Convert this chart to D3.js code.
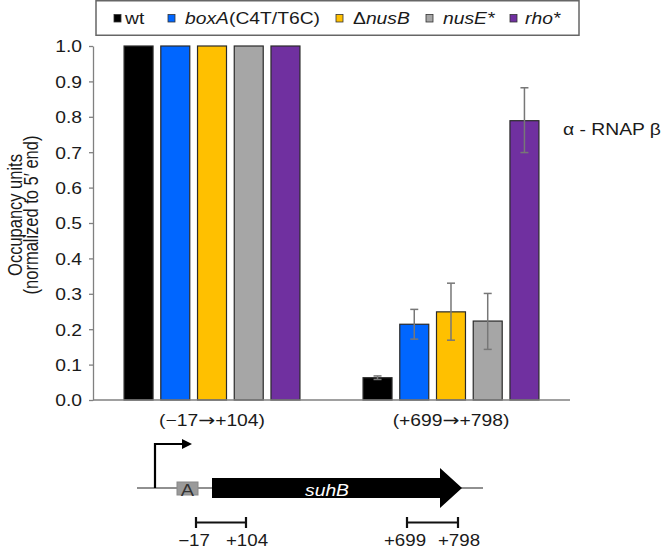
<!DOCTYPE html>
<html>
<head>
<meta charset="utf-8">
<script src="https://cdn.jsdelivr.net/npm/d3@7"></script>
<style>
  html, body { margin: 0; padding: 0; background: #fff; }
  svg { display: block; font-family: "Liberation Sans", Arial, Helvetica, sans-serif; }
</style>
</head>
<body>
<svg id="chart" width="661" height="552"></svg>
<script>
// ---------------- data ----------------
const groups = ["(\u221217\u2192+104)", "(+699\u2192+798)"];
const strains = ["wt", "boxA(C4T/T6C)", "\u0394nusB", "nusE*", "rho*"];
const colors = ["#000000", "#0066ff", "#ffc000", "#a6a6a6", "#7030a0"];
const valuesPromoter = [1.0, 1.0, 1.0, 1.0, 1.0];
const valuesDistal = [0.063, 0.214, 0.249, 0.223, 0.789];
const errLowDistal = [0.058, 0.172, 0.169, 0.143, 0.699];
const errHighDistal = [0.068, 0.256, 0.330, 0.301, 0.882];
const yTicks = [0, 0.1, 0.2, 0.3, 0.4, 0.5, 0.6, 0.7, 0.8, 0.9, 1.0];
const yTitle = ["Occupancy units", "(normalized to 5\u2032 end)"];
const annotation = "\u03b1 - RNAP \u03b2";
const rangeLabels = [["\u221217", "+104"], ["+699", "+798"]];

// ---------------- setup ----------------
const SX = 1.17;  // horizontal stretch of text in the reference
const FS = 16.5;
const svg = d3.select("#chart");

function txt(parent, x, y, s, anchor, size, extra) {
  const t = parent.append("text")
    .attr("transform", `translate(${x},${y}) scale(${SX},1)`)
    .attr("text-anchor", anchor || "start")
    .attr("font-size", size || FS)
    .attr("fill", "#1a1a1a")
    .text(s);
  if (extra) extra(t);
  return t;
}

const x0 = d3.scaleBand().domain(groups).range([93, 570])
  .paddingInner(0.264).paddingOuter(0.13);
const x1 = d3.scaleBand().domain(strains).range([0, x0.bandwidth()])
  .paddingInner(0.211).paddingOuter(0);
const y = d3.scaleLinear().domain([0, 1]).range([400, 46]);

const data = [];
groups.forEach((g, gi) => {
  strains.forEach((s, si) => {
    data.push({
      g, s, si,
      v: gi === 0 ? valuesPromoter[si] : valuesDistal[si],
      lo: gi === 0 ? null : errLowDistal[si],
      hi: gi === 0 ? null : errHighDistal[si]
    });
  });
});

// ---------------- bars ----------------
svg.append("g").selectAll("rect").data(data).join("rect")
  .attr("x", d => x0(d.g) + x1(d.s))
  .attr("y", d => y(d.v))
  .attr("width", x1.bandwidth())
  .attr("height", d => y(0) - y(d.v))
  .attr("fill", d => colors[d.si])
  .attr("stroke", "#2a2a2a")
  .attr("stroke-width", 1.2);

// ---------------- error bars ----------------
const eb = svg.append("g").attr("stroke", "#777").attr("stroke-width", 1.5);
const errs = data.filter(d => d.lo !== null);
const cx = d => x0(d.g) + x1(d.s) + x1.bandwidth() / 2;
eb.selectAll("line.v").data(errs).join("line").attr("class", "v")
  .attr("x1", cx).attr("x2", cx)
  .attr("y1", d => y(d.lo)).attr("y2", d => y(d.hi));
eb.selectAll("line.t").data(errs).join("line").attr("class", "t")
  .attr("x1", d => cx(d) - 4).attr("x2", d => cx(d) + 4)
  .attr("y1", d => y(d.hi)).attr("y2", d => y(d.hi));
eb.selectAll("line.b").data(errs).join("line").attr("class", "b")
  .attr("x1", d => cx(d) - 4).attr("x2", d => cx(d) + 4)
  .attr("y1", d => y(d.lo)).attr("y2", d => y(d.lo));

// ---------------- axes ----------------
const yAxis = svg.append("g").attr("transform", "translate(93,0)")
  .call(d3.axisLeft(y).tickValues(yTicks).tickSize(4).tickSizeOuter(0).tickFormat(d3.format(".1f")));
yAxis.select(".domain").attr("stroke", "#808080").attr("stroke-width", 1.3);
yAxis.selectAll(".tick line").attr("stroke", "#808080").attr("stroke-width", 1.3);
yAxis.selectAll(".tick text").remove();
yAxis.selectAll(".tick").each(function (d) {
  txt(d3.select(this), -11, 0, d3.format(".1f")(d), "end", FS, t => t.attr("dy", "0.36em"));
});

svg.append("line").attr("x1", 93).attr("x2", 570).attr("y1", y(0)).attr("y2", y(0))
  .attr("stroke", "#808080").attr("stroke-width", 1.3);

// group labels (arrow drawn from a font that has a full-size arrow)
groups.forEach(g => {
  const parts = g.split("\u2192");
  txt(svg, x0(g) + x0.bandwidth() / 2, 426, "", "middle", FS, t => {
    t.append("tspan").text(parts[0]);
    t.append("tspan").attr("font-family", "'DejaVu Sans', sans-serif").attr("font-size", FS * 1.05).text("\u2192");
    t.append("tspan").text(parts[1]);
  });
});

// y title
yTitle.forEach((s, i) => {
  svg.append("text")
    .attr("transform", `translate(${i === 0 ? 22 : 38},215) scale(${SX},1) rotate(-90)`)
    .attr("text-anchor", "middle")
    .attr("font-size", FS)
    .attr("fill", "#1a1a1a")
    .text(s);
});

// annotation
txt(svg, 563, 135, annotation, "start");

// ---------------- legend ----------------
svg.append("rect").attr("x", 96).attr("y", 0.75).attr("width", 483).attr("height", 34.5)
  .attr("fill", "#fff").attr("stroke", "#666").attr("stroke-width", 1.5);
const legSqX = [114, 168, 336, 426, 510];
const legTxX = [125, 185, 353, 443, 525];
strains.forEach((s, i) => {
  svg.append("rect").attr("x", legSqX[i]).attr("y", 14.5).attr("width", 7).attr("height", 7.5)
    .attr("fill", colors[i]).attr("stroke", "#333").attr("stroke-width", 0.8);
  const t = txt(svg, legTxX[i], 24, "", "start");
  if (i === 0) t.text(s);
  else if (i === 1) {
    t.append("tspan").attr("font-style", "italic").text("boxA");
    t.append("tspan").text("(C4T/T6C)");
  } else if (i === 2) {
    t.append("tspan").text("\u0394");
    t.append("tspan").attr("font-style", "italic").text("nusB");
  } else {
    t.append("tspan").attr("font-style", "italic").text(s);
  }
});

// ---------------- gene schematic ----------------
const gsc = svg.append("g");
gsc.append("line").attr("x1", 137).attr("x2", 483).attr("y1", 488).attr("y2", 488)
  .attr("stroke", "#222").attr("stroke-width", 1.2);
// promoter arrow
gsc.append("path").attr("d", "M155,488 V444 H183")
  .attr("fill", "none").attr("stroke", "#000").attr("stroke-width", 2.2);
gsc.append("path").attr("d", "M182,439 L192,444 L182,449 Z").attr("fill", "#000");
// boxA
gsc.append("rect").attr("x", 177).attr("y", 482).attr("width", 21).attr("height", 13)
  .attr("fill", "#9a9a9a").attr("stroke", "#888").attr("stroke-width", 1);
txt(gsc, 187.5, 495.5, "A", "middle", 17, t => t.attr("fill", "#333"));
// suhB arrow
gsc.append("path").attr("d", "M212,478 H440 V468 L462,488 L440,508 V498 H212 Z").attr("fill", "#000");
txt(gsc, 327, 496, "suhB", "middle", FS, t => t.attr("fill", "#fff").attr("font-style", "italic"));
// ranges
const rangesPx = [[196, 246], [407, 458]];
rangesPx.forEach((r, i) => {
  gsc.append("path").attr("d", `M${r[0]},517 V528 M${r[0]},522.5 H${r[1]} M${r[1]},517 V528`)
    .attr("fill", "none").attr("stroke", "#111").attr("stroke-width", 2.2);
  txt(gsc, r[0] - 2, 546, rangeLabels[i][0], "middle", 16);
  txt(gsc, r[1] + 1, 546, rangeLabels[i][1], "middle", 16);
});
</script>
</body>
</html>
